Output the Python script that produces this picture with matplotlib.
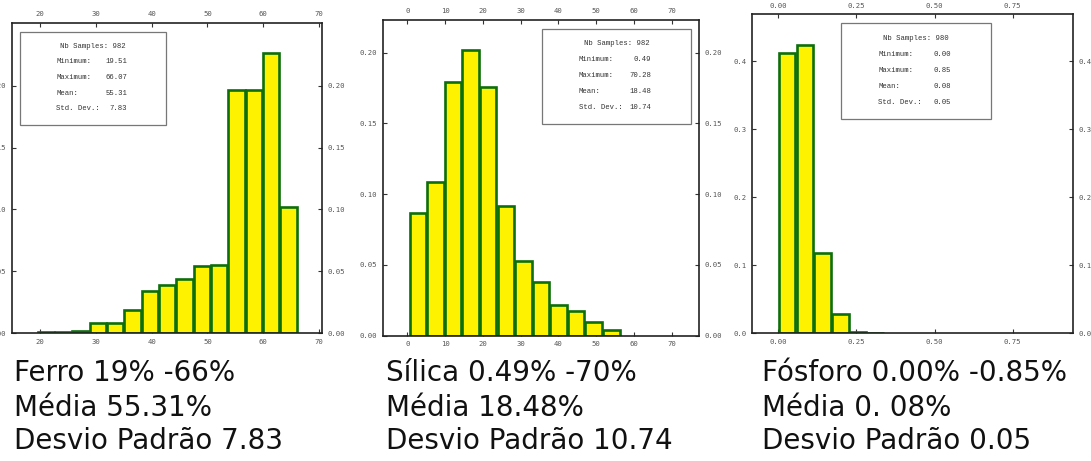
import numpy as np
import matplotlib
matplotlib.use("Agg")
import matplotlib.pyplot as plt
from matplotlib.patches import Rectangle

# relative frequency per class (15 equal classes between min and max)
ferro_min, ferro_max = 19.51, 66.07
ferro_freq = [0.001, 0.001, 0.002, 0.008, 0.008, 0.019, 0.034, 0.039,
              0.044, 0.054, 0.055, 0.197, 0.197, 0.227, 0.102]
ferro_stats = ["982", "19.51", "66.07", "55.31", "7.83"]

silica_min, silica_max = 0.49, 70.28
silica_freq = [0.087, 0.1086, 0.179, 0.202, 0.176, 0.0916, 0.0528, 0.0377,
               0.0214, 0.0172, 0.0097, 0.004]
silica_stats = ["982", "0.49", "70.28", "18.48", "10.74"]

fosforo_min, fosforo_max = 0.00, 0.85
fosforo_freq = [0.4127, 0.4235, 0.1175, 0.0279, 0.002, 0.001]
fosforo_stats = ["980", "0.00", "0.85", "0.08", "0.05"]

stat_names = ["Minimum:", "Maximum:", "Mean:", "Std. Dev.:"]

ferro_text = ["Ferro 19% -66%", "Média 55.31%", "Desvio Padrão 7.83"]
silica_text = ["Sílica 0.49% -70%", "Média 18.48%", "Desvio Padrão 10.74"]
fosforo_text = ["Fósforo 0.00% -0.85%", "Média 0. 08%", "Desvio Padrão 0.05"]

W, H = 1091, 461
fig = plt.figure(figsize=(W / 100, H / 100), dpi=100)

tick_font = dict(family="DejaVu Sans Mono", size=5.2, color="#555555")
box_font = dict(family="Liberation Mono", size=5.2, color="#333333")


def px_axes(x0, y0, x1, y1):
    return fig.add_axes([x0 / W, 1 - y1 / H, (x1 - x0) / W, (y1 - y0) / H])


def histo(ax, vmin, vmax, freq, xlim, ylim, xticks, yticks, xfmt, yfmt, stats, box_x):
    nbins = 15
    width = (vmax - vmin) / nbins
    edges = vmin + width * np.arange(len(freq))
    ax.bar(edges + width / 2, freq, width=width * 0.94, color="#fff200",
           edgecolor="#0c6e0c", linewidth=1.9, zorder=2)
    ax.set_xlim(*xlim)
    ax.set_ylim(*ylim)
    ax.set_xticks(xticks)
    ax.set_yticks(yticks)
    ax.set_xticklabels([xfmt % t for t in xticks], fontdict=tick_font)
    ax.set_yticklabels([yfmt % t for t in yticks], fontdict=tick_font)
    ax.tick_params(direction="in", length=3, width=0.8, color="#333333",
                   top=True, right=True, labeltop=True, labelright=True, pad=4)
    for s in ax.spines.values():
        s.set_linewidth(1.2)
        s.set_color("#222222")

    # statistics box
    ax.add_patch(Rectangle((box_x, 0.672), 0.47, 0.300, transform=ax.transAxes,
                           fill=False, edgecolor="#777777", linewidth=0.9, zorder=3))
    cx = box_x + 0.235
    ys = [0.925, 0.875, 0.824, 0.774, 0.724]
    ax.text(cx, ys[0], "Nb Samples: " + stats[0], transform=ax.transAxes,
            ha="center", va="center", **box_font)
    for name, val, y in zip(stat_names, stats[1:], ys[1:]):
        ax.text(cx - 0.118, y, name, transform=ax.transAxes,
                ha="left", va="center", **box_font)
        ax.text(cx + 0.11, y, val, transform=ax.transAxes,
                ha="right", va="center", **box_font)


ax1 = px_axes(12, 23, 322, 333)
histo(ax1, ferro_min, ferro_max, ferro_freq, (15, 70.5), (0, 0.251),
      [20, 30, 40, 50, 60, 70], [0, 0.05, 0.10, 0.15, 0.20], "%d", "%.2f",
      ferro_stats, 0.026)

ax2 = px_axes(382.7, 20, 699.3, 335.7)
histo(ax2, silica_min, silica_max, silica_freq, (-6.5, 77.3), (0, 0.223),
      [0, 10, 20, 30, 40, 50, 60, 70], [0, 0.05, 0.10, 0.15, 0.20], "%d", "%.2f",
      silica_stats, 0.503)

ax3 = px_axes(751.7, 14.3, 1072.7, 333.3)
histo(ax3, fosforo_min, fosforo_max, fosforo_freq, (-0.085, 0.942), (0, 0.469),
      [0, 0.25, 0.5, 0.75], [0, 0.1, 0.2, 0.3, 0.4], "%.2f", "%.1f",
      fosforo_stats, 0.277)

# captions under each histogram
line_y = [373, 408, 441]
for x0, lines in zip([14, 386, 762], [ferro_text, silica_text, fosforo_text]):
    for y, s in zip(line_y, lines):
        fig.text(x0 / W, 1 - y / H, s, ha="left", va="center",
                 family="DejaVu Sans", size=20, color="#111111")

fig.savefig("out.png", dpi=100)
